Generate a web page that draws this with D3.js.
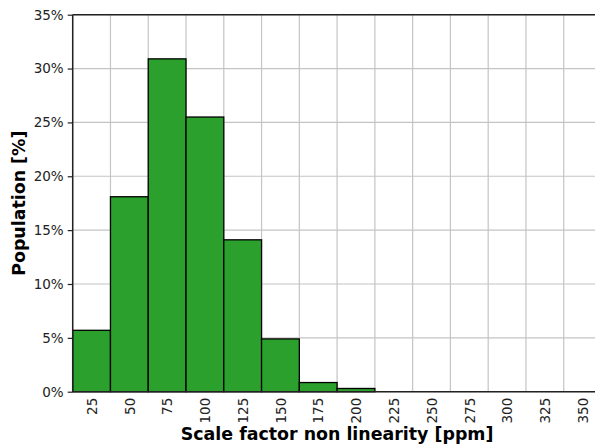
<!DOCTYPE html>
<html>
<head>
<meta charset="utf-8">
<script src="https://d3js.org/d3.v7.min.js"></script>
<style>
  body { margin: 0; background: #fff; }
  svg { display: block; font-family: "DejaVu Sans", sans-serif; }
</style>
</head>
<body>
<script>
    // histogram of scale factor non linearity, bin width 25 ppm
    var binCenters = [25, 50, 75, 100, 125, 150, 175, 200, 225, 250, 275, 300, 325, 350];
    var population = [5.7, 18.1, 30.9, 25.5, 14.1, 4.9, 0.85, 0.3, 0, 0, 0, 0, 0, 0];
    var yTicks = [0, 5, 10, 15, 20, 25, 30, 35];
    var binWidth = 25;

    var W = 595, H = 446;
    var margin = {top: 14.7, left: 72.7, bottom: 446 - 391.7};
    var plotRight = 601.5;

    var svg = d3.select("body").append("svg")
        .attr("width", W)
        .attr("height", H);

    var x = d3.scaleLinear()
        .domain([binCenters[0] - binWidth / 2, binCenters[binCenters.length - 1] + binWidth / 2])
        .range([margin.left, plotRight]);
    var y = d3.scaleLinear()
        .domain([0, 35])
        .range([H - margin.bottom, margin.top]);

    // gridlines at bin edges
    var edges = binCenters.map(function(c){ return c - binWidth / 2; });
    edges.push(binCenters[binCenters.length - 1] + binWidth / 2);
    svg.append("g").selectAll("line.vg")
        .data(edges).enter().append("line")
        .attr("x1", function(d){ return x(d); }).attr("x2", function(d){ return x(d); })
        .attr("y1", y(35)).attr("y2", y(0))
        .attr("stroke", "#c4c4c4").attr("stroke-width", 1.2);
    svg.append("g").selectAll("line.hg")
        .data(yTicks).enter().append("line")
        .attr("x1", margin.left).attr("x2", plotRight)
        .attr("y1", function(d){ return y(d); }).attr("y2", function(d){ return y(d); })
        .attr("stroke", "#c4c4c4").attr("stroke-width", 1.2);

    // bars
    svg.append("g").selectAll("rect")
        .data(binCenters.map(function(c, i){ return {c: c, v: population[i]}; }).filter(function(d){ return d.v > 0; }))
        .enter().append("rect")
        .attr("x", function(d){ return x(d.c - binWidth / 2); })
        .attr("width", function(d){ return x(d.c + binWidth / 2) - x(d.c - binWidth / 2); })
        .attr("y", function(d){ return y(d.v); })
        .attr("height", function(d){ return y(0) - y(d.v); })
        .attr("fill", "#2ca02c")
        .attr("stroke", "#000")
        .attr("stroke-width", 1.3);

    // y axis
    var yAxis = d3.axisLeft(y).tickValues(yTicks)
        .tickFormat(function(d){ return d + "%"; })
        .tickSize(5).tickPadding(4);
    var gy = svg.append("g")
        .attr("transform", "translate(" + margin.left + ",0)")
        .call(yAxis);
    gy.select(".domain").remove();
    gy.selectAll(".tick line").attr("stroke", "#222").attr("stroke-width", 1.2);
    gy.selectAll(".tick text").attr("font-size", 13.5).attr("fill", "#222")
        .attr("font-family", "DejaVu Sans");

    // x axis, labels at bin centres, no tick marks
    var xAxis = d3.axisBottom(x).tickValues(binCenters).tickSize(0).tickPadding(0);
    var gx = svg.append("g")
        .attr("transform", "translate(0," + y(0) + ")")
        .call(xAxis);
    gx.select(".domain").remove();
    gx.selectAll(".tick text")
        .attr("font-size", 13.5).attr("fill", "#222")
        .attr("font-family", "DejaVu Sans")
        .attr("transform", "rotate(-90)")
        .attr("x", -6).attr("y", 0).attr("dy", "0.35em")
        .style("text-anchor", "end");

    // spines
    svg.append("line").attr("x1", margin.left).attr("x2", margin.left)
        .attr("y1", y(0)).attr("y2", y(35)).attr("stroke", "#222").attr("stroke-width", 1.5);
    svg.append("line").attr("x1", margin.left).attr("x2", plotRight)
        .attr("y1", y(0)).attr("y2", y(0)).attr("stroke", "#222").attr("stroke-width", 1.5);
    svg.append("line").attr("x1", margin.left).attr("x2", plotRight)
        .attr("y1", y(35)).attr("y2", y(35)).attr("stroke", "#222").attr("stroke-width", 1.5);
    svg.append("line").attr("x1", plotRight).attr("x2", plotRight)
        .attr("y1", y(0)).attr("y2", y(35)).attr("stroke", "#222").attr("stroke-width", 1.5);

    // axis titles
    svg.append("text")
        .attr("x", (margin.left + plotRight) / 2)
        .attr("y", 440)
        .attr("text-anchor", "middle")
        .attr("font-size", 17.4).attr("font-weight", "bold")
        .text("Scale factor non linearity [ppm]");
    svg.append("text")
        .attr("transform", "translate(25," + ((y(0) + y(35)) / 2) + ") rotate(-90)")
        .attr("text-anchor", "middle")
        .attr("font-size", 17.4).attr("font-weight", "bold")
        .text("Population [%]");
</script>
</body>
</html>
